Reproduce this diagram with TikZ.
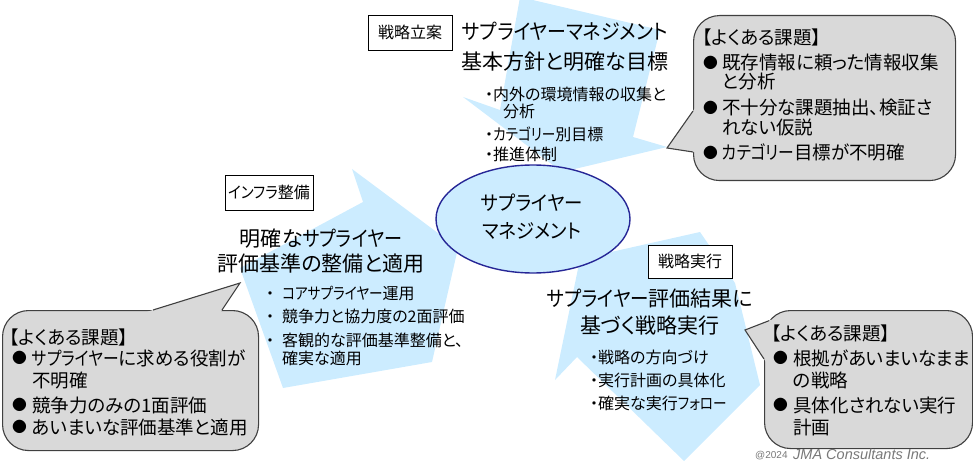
\documentclass[tikz,border=0pt]{standalone}
\usepackage{fontspec}
\setmainfont{Noto Sans CJK JP}[RawFeature=+palt]
\newfontfamily\copyfont{Liberation Sans}
\usetikzlibrary{shapes.geometric,calc}
\definecolor{arrowblue}{RGB}{204,236,255}
\definecolor{hubline}{RGB}{38,38,150}
\definecolor{bubblegray}{RGB}{217,217,217}
\definecolor{bubbleline}{RGB}{64,64,64}
\definecolor{copygray}{RGB}{120,120,120}
\newcommand{\bulmark}[1]{\makebox[#1][l]{\raisebox{0.06em}{\scalebox{0.8}{●}}}}
\newcommand{\kn}[2][0.85]{\scalebox{#1}[1]{#2}}
\begin{document}
\begin{tikzpicture}[x=1pt,y=-1pt,
  bigarrow/.style={fill=arrowblue},
  hub/.style={ellipse, draw=hubline, line width=1.4pt, fill=arrowblue, minimum width=194pt, minimum height=108pt, inner sep=0pt},
  stagebox/.style={draw=black, line width=0.9pt, fill=white, inner sep=0pt, font=\fontsize{16}{18}\selectfont},
  bubble/.style={draw=bubbleline, fill=bubblegray, line width=1.1pt, rounded corners=26pt, inner sep=0pt, anchor=north west},
  pointerfill/.style={fill=bubblegray},
  pointerline/.style={draw=bubbleline, line width=1.1pt, line join=miter},
  lnw/.style={inner sep=0pt, anchor=base west},
  lnc/.style={inner sep=0pt, anchor=base},
  fhead/.style={font=\fontsize{21}{25}\selectfont},
  fhub/.style={font=\fontsize{20}{24}\selectfont},
  fpt/.style={font=\fontsize{16}{19}\selectfont},
  fbub/.style={font=\fontsize{18.5}{21}\selectfont},
]
\useasboundingbox (0,0) rectangle (973,462);

% three big arrows
\fill[bigarrow] (520,-3) -- (660,30) -- (633,137) -- (667,147) -- (562,172) -- (463,97) -- (500,110) -- cycle;
\fill[bigarrow] (240,268) -- (363,202) -- (352,169) -- (458,248) -- (432,362) -- (283,388) -- cycle;
\fill[bigarrow] (684,461) -- (577,357) -- (555,380) -- (580,259) -- (700,232) -- (735,283) -- (760,385) -- cycle;

% hub
\node[hub] (hub) at (533,219) {};
\node[lnc,fhub] (hub1) at (532,211) {\kn[0.92]{サプライヤー}};
\node[lnc,fhub] (hub2) at (532,238) {\kn[0.92]{マネジメント}};

% headlines
\node[lnc,fhead] (h1a) at (565,40) {\kn[0.9]{サプライヤーマネジメント}};
\node[lnc,fhead] (h1b) at (565,70) {基本方針と明確な目標};
\node[lnc,fhead] (h2a) at (321,246) {明確な\kn[0.86]{サプライヤー}};
\node[lnc,fhead] (h2b) at (321,271) {評価基準の整備と適用};
\node[lnc,fhead] (h3a) at (650,306) {\kn[0.88]{サプライヤー}評価結果に};
\node[lnc,fhead] (h3b) at (650,333) {基づく戦略実行};

% points
\node[lnw,fpt] (p1a) at (485,101) {・内外の環境情報の収集と};
\node[lnw,fpt] (p1b) at (503,118) {分析};
\node[lnw,fpt] (p1c) at (485,141) {・\kn{カテゴリー}別目標};
\node[lnw,fpt] (p1d) at (485,161) {・推進体制};

\node[lnw,fpt] (p2a) at (266,299) {\makebox[16pt][l]{・}\kn{コアサプライヤー}運用};
\node[lnw,fpt] (p2b) at (266,322) {\makebox[16pt][l]{・}競争力と協力度の2面評価};
\node[lnw,fpt] (p2c) at (266,346) {\makebox[16pt][l]{・}客観的な評価基準整備と、};
\node[lnw,fpt] (p2d) at (282,364) {確実な適用};

\node[lnw,fpt] (p3a) at (590,363) {・戦略の方向づけ};
\node[lnw,fpt] (p3b) at (590,386) {・実行計画の具体化};
\node[lnw,fpt] (p3c) at (590,409) {・確実な実行\kn{フォロー}};

% stage boxes
\node[stagebox, minimum width=84pt, minimum height=35pt] (s1) at (410,32.5) {戦略立案};
\node[stagebox, minimum width=88pt, minimum height=35pt] (s2) at (269,192.5) {\kn[0.9]{インフラ}整備};
\node[stagebox, minimum width=84pt, minimum height=33pt] (s3) at (690,261.5) {戦略実行};

% callouts
\node[bubble, minimum width=262pt, minimum height=165pt] (c1) at (693,15) {};
\coordinate (c1tip) at (667,148);
\coordinate (c1a) at (693,111);
\coordinate (c1b) at (693,152);
\fill[pointerfill] ($(c1tip)!1.12!(c1a)$) -- (c1tip) -- ($(c1tip)!1.14!(c1b)$) -- cycle;
\draw[pointerline] (c1a) -- (c1tip) -- (c1b);

\node[bubble, minimum width=256pt, minimum height=140pt] (c2) at (2,310) {};
\coordinate (c2tip) at (240,283);
\coordinate (c2a) at (153,310);
\coordinate (c2b) at (222,310);
\fill[pointerfill] ($(c2tip)!1.08!(c2a)$) -- (c2tip) -- ($(c2tip)!1.1!(c2b)$) -- cycle;
\draw[pointerline] (c2a) -- (c2tip) -- (c2b);

\node[bubble, minimum width=208pt, minimum height=138pt] (c3) at (764,310) {};
\coordinate (c3tip) at (745,330);
\coordinate (c3a) at (769,320.7);
\coordinate (c3b) at (764,359);
\fill[pointerfill] ($(c3tip)!1.15!(c3a)$) -- (c3tip) -- ($(c3tip)!1.12!(c3b)$) -- cycle;
\draw[pointerline] (c3a) -- (c3tip) -- (c3b);

% callout texts
\node[lnw,fbub] (c1t0) at (702,45) {【よくある課題】};
\node[lnw,fbub] (c1t1) at (703,70) {\bulmark{19pt}既存情報に頼った情報収集};
\node[lnw,fbub] (c1t2) at (722,89) {と分析};
\node[lnw,fbub] (c1t3) at (703,115) {\bulmark{19pt}不十分な課題抽出、検証さ};
\node[lnw,fbub] (c1t4) at (722,135) {れない仮説};
\node[lnw,fbub] (c1t5) at (703,160) {\bulmark{19pt}\kn{カテゴリー}目標が不明確};

\node[lnw,fbub] (c2t0) at (9,344) {【よくある課題】};
\node[lnw,fbub] (c2t1) at (12,365) {\bulmark{20pt}\kn{サプライヤー}に求める役割が};
\node[lnw,fbub] (c2t2) at (32,387) {不明確};
\node[lnw,fbub] (c2t3) at (12,412) {\bulmark{20pt}競争力のみの1面評価};
\node[lnw,fbub] (c2t4) at (12,434) {\bulmark{20pt}あいまいな評価基準と適用};

\node[lnw,fbub] (c3t0) at (771,340) {【よくある課題】};
\node[lnw,fbub] (c3t1) at (773,365) {\bulmark{20pt}根拠があいまいなまま};
\node[lnw,fbub] (c3t2) at (793,387) {の戦略};
\node[lnw,fbub] (c3t3) at (773,412) {\bulmark{20pt}具体化されない実行};
\node[lnw,fbub] (c3t4) at (793,434) {計画};

% copyright
\node[lnw, text=copygray, font=\copyfont\fontsize{10}{12}\selectfont] (cp1) at (755,458) {@2024};
\node[lnw, text=copygray, font=\copyfont\itshape\fontsize{14.5}{16}\selectfont] (cp2) at (793,459) {JMA Consultants Inc.};
\end{tikzpicture}
\end{document}
